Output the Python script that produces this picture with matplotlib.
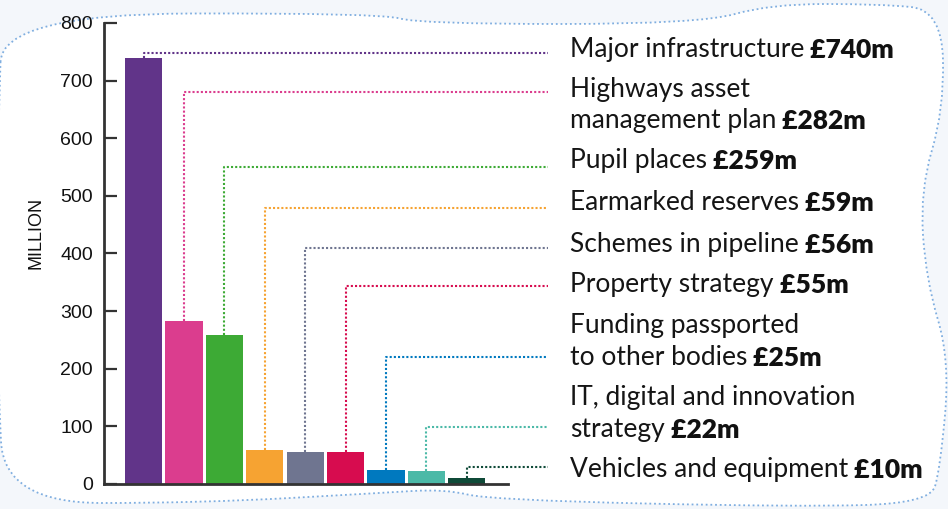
import numpy as np
import matplotlib
matplotlib.use("Agg")
import matplotlib.pyplot as plt
from matplotlib.path import Path
from matplotlib.patches import PathPatch

# data
names = ["Major infrastructure", "Highways asset\nmanagement plan", "Pupil places",
         "Earmarked reserves", "Schemes in pipeline", "Property strategy",
         "Funding passported\nto other bodies", "IT, digital and innovation\nstrategy",
         "Vehicles and equipment"]
values = [740, 282, 259, 59, 56, 55, 25, 22, 10]
value_labels = ["£740m", "£282m", "£259m", "£59m", "£56m", "£55m", "£25m", "£22m", "£10m"]
colors = ["#613489", "#DB3D8E", "#3DAA35", "#F6A332", "#6F7590",
          "#D70C4F", "#0079BF", "#4BB9A7", "#0F4A38"]
yticks = [0, 100, 200, 300, 400, 500, 600, 700, 800]

# layout (pixels from top of the image)
W, H = 948, 509
label_base = [56.7, 96.7, 168.3, 210, 251.7, 291.7, 333.3, 405, 476.7]
leader_y = [52.7, 92, 166.7, 207.7, 248.3, 286, 356.7, 426.7, 466.7]
line_gap = 31.6
leader_end_x = 548
text_x = 570
axis_font = "Liberation Sans"

fig = plt.figure(figsize=(W / 100, H / 100), dpi=100)
fig.patch.set_facecolor("#F4F7FB")

# white blob with dotted border behind everything
bg = fig.add_axes([0, 0, 1, 1], zorder=-1)
bg.set_xlim(0, W)
bg.set_ylim(H, 0)
bg.axis("off")
blob = np.array([(2, 14), (380, 13), (420, 24), (700, 24), (770, 4), (880, 4),
                 (942, 10), (944, 110), (920, 190), (926, 280), (950, 360),
                 (940, 470), (930, 503), (800, 507), (490, 500), (445, 489),
                 (380, 493), (200, 503), (4, 503), (-2, 380), (-4, 240), (-1, 110)])
mids = (blob + np.roll(blob, -1, axis=0)) / 2
verts = [mids[-1]]
codes = [Path.MOVETO]
for i in range(len(blob)):
    verts += [blob[i], mids[i]]
    codes += [Path.CURVE3, Path.CURVE3]
bg.add_patch(PathPatch(Path(verts, codes), facecolor="white", edgecolor="#7FAEE0",
                       lw=1.3, ls=(0, (1, 1.6))))

# chart
ax = fig.add_axes([104 / W, (H - 484) / H, 404 / W, 461 / H])
ax.patch.set_alpha(0)
x = np.arange(len(values))
ax.bar(x, values, width=0.92, color=colors, zorder=2)
ax.set_xlim(-0.98, 9.02)
ax.set_ylim(0, 800)
ax.set_yticks(yticks)
ax.set_xticks([])
for s in ["top", "right"]:
    ax.spines[s].set_visible(False)
for s in ["left", "bottom"]:
    ax.spines[s].set_linewidth(2)
    ax.spines[s].set_color("#333333")
ax.tick_params(axis="y", direction="in", length=9.5, width=1.6, color="#333333",
               pad=8, labelsize=14, labelcolor="#111111")
for t in ax.get_yticklabels():
    t.set_family(axis_font)

fig.text(36 / W, 1 - 233 / H, "MILLION", rotation=90, ha="center", va="center",
         fontsize=13, color="#111111", family=axis_font)

# leader lines from bar tops to the labels
inv = ax.transData.inverted()
x_end = inv.transform((leader_end_x, H - 100))[0]
for i, v in enumerate(values):
    y_line = inv.transform((0, H - leader_y[i]))[1]
    ax.plot([i, i, x_end], [v, y_line, y_line], color=colors[i], lw=1.5,
            ls=(0, (1, 1)), clip_on=False, zorder=3)

# labels
for i, name in enumerate(names):
    lines = name.split("\n")
    for j, line in enumerate(lines):
        yb = 1 - (label_base[i] + j * line_gap) / H
        t = fig.text(text_x / W, yb, line, ha="left", va="baseline", fontsize=19,
                     family="Lato", color="#151515")
    ax.annotate(" " + value_labels[i], xy=(1, 0), xycoords=t, va="bottom",
                ha="left", fontsize=19, family="Lato", fontweight="heavy",
                color="#111111", annotation_clip=False)

fig.savefig("out.png", dpi=100, facecolor=fig.get_facecolor())
